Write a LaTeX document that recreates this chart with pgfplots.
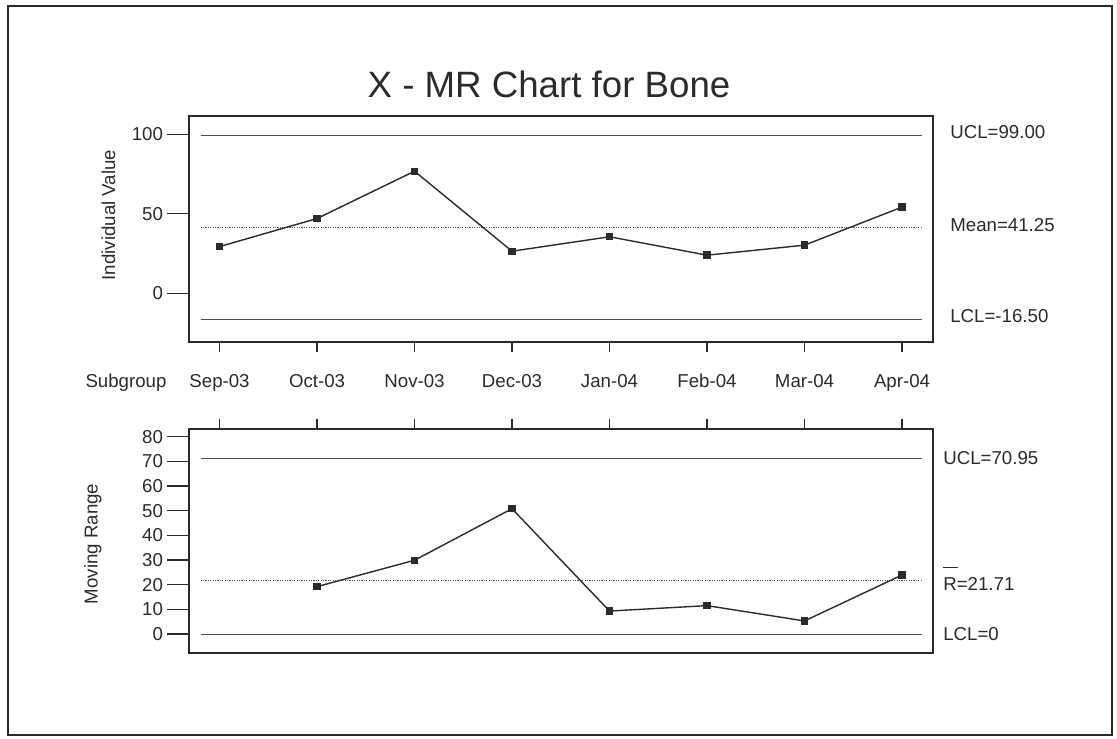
\documentclass[border=0pt]{standalone}
\usepackage{fontspec}
\setmainfont{Liberation Sans}
\usepackage{pgfplots}
\pgfplotsset{compat=1.18}
\newlength\px
\setlength\px{0.6pt}
\definecolor{ink}{HTML}{2B2B2B}
\definecolor{limit}{HTML}{505050}

\pgfplotsset{
  spc/.style={
    scale only axis, width=744\px, clip=false,
    xmin=0.687, xmax=8.318, xtick={1,...,8},
    tick align=outside,
    axis line style={ink, line width=1.3\px},
    xtick style={ink, line width=1.2\px, /pgfplots/major tick length=10\px},
    ytick style={ink, line width=1.2\px, /pgfplots/major tick length=22\px},
    ytick pos=left,
    yticklabel style={xshift=-13\px},
    font=\fontsize{11.2pt}{13pt}\selectfont,
    tick label style={text=ink},
    /pgf/number format/assume math mode=true,
  },
  dat/.style={ink, line width=1.4\px, mark=square*, mark size=3\px, mark options={solid, fill=ink}},
  ctl/.style={limit, line width=1\px, no marks},
  ctr/.style={limit, line width=0.9\px, dash pattern=on 1.2\px off 1.2\px, no marks},
}

\begin{document}
\begin{tikzpicture}
\useasboundingbox (0,0) rectangle (1117\px,738\px);
\draw[ink, line width=2\px] (8\px,3\px) rectangle (1112\px,732\px);

\node[text=ink, font=\fontsize{22pt}{26pt}\selectfont] at (549\px,654\px) {X - MR Chart for Bone};

% individual values
\begin{axis}[spc,
  at={(189\px,396\px)}, anchor=south west, height=226\px,
  ymin=-30.8, ymax=111.6, ytick={0,50,100},
  xtick pos=left,
  xticklabels={Sep-03,Oct-03,Nov-03,Dec-03,Jan-04,Feb-04,Mar-04,Apr-04},
  xticklabel style={anchor=base, yshift=-38\px},
]
\addplot[ctl] coordinates {(0.805,99) (8.21,99)};
\addplot[ctr] coordinates {(0.805,41.25) (8.21,41.25)};
\addplot[ctl] coordinates {(0.805,-16.5) (8.21,-16.5)};
\addplot[dat] coordinates {(1,29.3) (2,47.0) (3,76.8) (4,26.4) (5,35.5) (6,23.9) (7,30.2) (8,54.2)};
\node[anchor=west, inner sep=0, text=ink, xshift=17\px, yshift=4\px] at (axis cs:8.318,99) {UCL=99.00};
\node[anchor=west, inner sep=0, text=ink, xshift=17\px, yshift=3\px] at (axis cs:8.318,41.25) {Mean=41.25};
\node[anchor=west, inner sep=0, text=ink, xshift=17\px, yshift=3\px] at (axis cs:8.318,-16.5) {LCL=-16.50};
\end{axis}

% moving range
\begin{axis}[spc,
  at={(189\px,85\px)}, anchor=south west, height=224\px,
  ymin=-7.7, ymax=83.1, ytick={0,10,...,80},
  xtick pos=right, xticklabels={},
]
\addplot[ctl] coordinates {(0.805,70.95) (8.21,70.95)};
\addplot[ctr] coordinates {(0.805,21.71) (8.21,21.71)};
\addplot[ctl] coordinates {(0.805,0) (8.21,0)};
\addplot[dat] coordinates {(2,19.2) (3,29.9) (4,50.8) (5,9.3) (6,11.5) (7,5.3) (8,23.9)};
\node[anchor=west, inner sep=0, text=ink, xshift=10\px, yshift=1\px] at (axis cs:8.318,70.95) {UCL=70.95};
\node[anchor=west, inner sep=0, text=ink, xshift=10\px, yshift=2\px] at (axis cs:8.318,21.71) {\makebox[0pt][l]{\rule[22\px]{15\px}{1.3\px}}R=21.71};
\node[anchor=west, inner sep=0, text=ink, xshift=10\px] at (axis cs:8.318,0) {LCL=0};
\end{axis}

\node[anchor=base, text=ink, font=\fontsize{11.2pt}{13pt}\selectfont] at (126\px,350\px) {Subgroup};
\node[anchor=base, rotate=90, text=ink, font=\fontsize{11.2pt}{13pt}\selectfont] at (115\px,523\px) {Individual Value};
\node[anchor=base, rotate=90, text=ink, font=\fontsize{11.2pt}{13pt}\selectfont] at (97.5\px,194\px) {Moving Range};
\end{tikzpicture}
\end{document}
